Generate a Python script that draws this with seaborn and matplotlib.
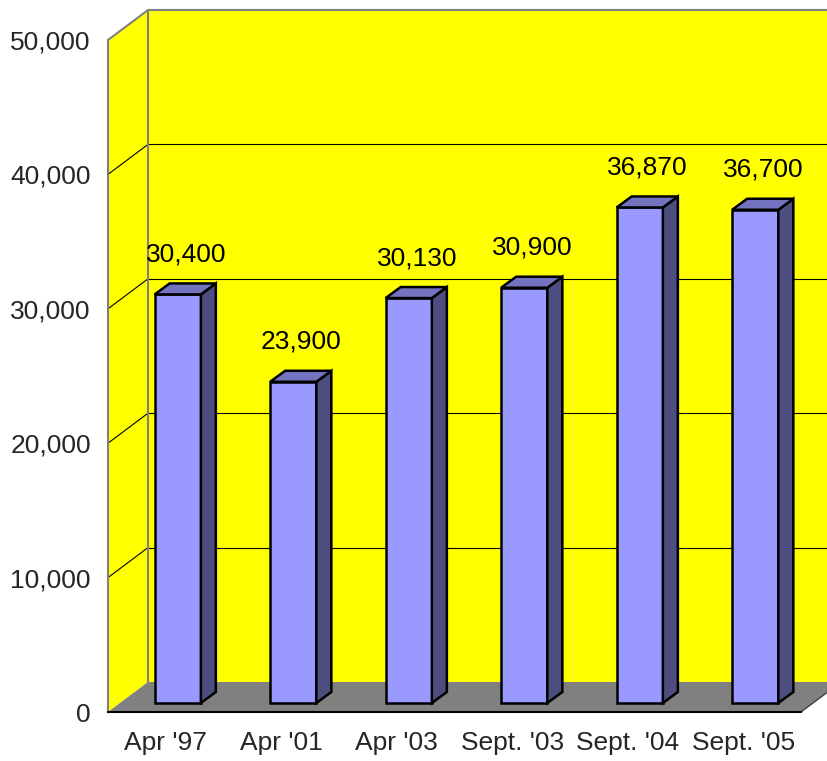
import matplotlib
matplotlib.use("Agg")
import matplotlib.pyplot as plt
import numpy as np
import pandas as pd
import seaborn as sns
from matplotlib.patches import Polygon
from matplotlib.transforms import IdentityTransform, ScaledTranslation

# data
dates = ["Apr '97", "Apr '01", "Apr '03", "Sept. '03", "Sept. '04", "Sept. '05"]
counts = [30400, 23900, 30130, 30900, 36870, 36700]
y_ticks = [0, 10000, 20000, 30000, 40000, 50000]

# 3d look, all in pixels (right, up)
wall_depth = (40, 30)
bar_shift = (12, 9)
bar_depth = (15, 11)

front_color = "#9999FF"
top_color = "#7373C0"
side_color = "#4D4D80"
edge_w = 1.8
font_size = 19

sns.set_style("white")
plt.rcParams["font.family"] = ["Liberation Sans", "DejaVu Sans"]

fig = plt.figure(figsize=(8.28, 7.61), dpi=100)
ax = fig.add_axes([108 / 828, 49 / 761, 693 / 828, 672 / 761])
ax.patch.set_visible(False)

df = pd.DataFrame({"date": dates, "count": counts})
sns.barplot(data=df, x="date", y="count", color=front_color, saturation=1,
            width=0.4, edgecolor="black", linewidth=edge_w, ax=ax, zorder=3)
bars = list(ax.patches)

ax.set_xlim(-0.5, len(dates) - 0.5)
ax.set_ylim(0, 50000)
ax.autoscale(False)


def px(x, y, dx=0.0, dy=0.0):
    X, Y = ax.transData.transform((x, y))
    return (X + dx, Y + dy)


def add_poly(points, fc, ec="none", lw=0.0, z=0):
    ax.add_patch(Polygon(points, closed=True, facecolor=fc, edgecolor=ec,
                         linewidth=lw, transform=IdentityTransform(),
                         clip_on=False, zorder=z, joinstyle="miter"))


def add_line(p0, p1, color, lw, z=1):
    ax.add_line(plt.Line2D([p0[0], p1[0]], [p0[1], p1[1]], color=color,
                           linewidth=lw, transform=IdentityTransform(),
                           clip_on=False, zorder=z))


x_lo, x_hi = -0.5, len(dates) - 0.5
y_top = y_ticks[-1]
wd = wall_depth

# back wall, side wall and floor
add_poly([px(x_lo, 0, *wd), px(x_hi, 0, *wd), px(x_hi, y_top, *wd),
          px(x_lo, y_top, *wd)], "#FFFF00", z=0)
add_poly([px(x_lo, 0), px(x_lo, 0, *wd), px(x_lo, y_top, *wd),
          px(x_lo, y_top)], "#FFFF00", z=0)
add_poly([px(x_lo, 0), px(x_hi, 0), px(x_hi, 0, *wd), px(x_lo, 0, *wd)],
         "#808080", z=0.5)
add_line(px(x_hi, 0), px(x_hi, 0, *wd), "#404040", 1.0, z=0.6)

# gridlines on the walls
for t in y_ticks[1:-1]:
    add_line(px(x_lo, t, *wd), px(x_hi, t, *wd), "black", 0.8, z=0.4)
    add_line(px(x_lo, t), px(x_lo, t, *wd), "black", 0.8, z=0.4)

# grey frame of the walls
add_line(px(x_lo, 0, *wd), px(x_lo, y_top, *wd), "#808080", 1.5, z=0.45)
add_line(px(x_lo, y_top), px(x_lo, y_top, *wd), "#808080", 1.5, z=0.45)
add_line(px(x_lo, y_top, *wd), px(x_hi, y_top, *wd), "#808080", 1.5, z=0.45)

# bars: shift the front faces and add top / side faces
shift = ScaledTranslation(bar_shift[0] / 100, bar_shift[1] / 100,
                          fig.dpi_scale_trans)
bd = bar_depth
for p in bars:
    p.set_transform(ax.transData + shift)
    p.set_clip_on(False)
    x0 = p.get_x()
    x1 = x0 + p.get_width()
    h = p.get_height()
    fl = px(x0, h, *bar_shift)
    fr = px(x1, h, *bar_shift)
    fb = px(x1, 0, *bar_shift)
    add_poly([fb, fr, (fr[0] + bd[0], fr[1] + bd[1]), (fb[0] + bd[0], fb[1] + bd[1])],
             side_color, "black", edge_w, z=3)
    add_poly([fl, fr, (fr[0] + bd[0], fr[1] + bd[1]), (fl[0] + bd[0], fl[1] + bd[1])],
             top_color, "black", edge_w, z=3)
    ax.annotate(f"{int(h):,}", xy=(x0 + p.get_width() / 2, h),
                xytext=(20, 49), textcoords="offset pixels",
                ha="center", va="center", fontsize=font_size, color="black",
                zorder=4, annotation_clip=False)

# axes
ax.set_xlabel("")
ax.set_ylabel("")
ax.set_xticks(np.arange(len(dates) + 1) - 0.5)
ax.set_xticklabels([])
ax.set_xticks(np.arange(len(dates)), minor=True)
ax.set_xticklabels(dates, minor=True)
ax.tick_params(axis="x", which="major", length=11, width=1.2, color="black",
               direction="out")
ax.tick_params(axis="x", which="minor", length=0, pad=14, labelsize=font_size)

ax.set_yticks(y_ticks)
ax.set_yticklabels([f"{t:,}" for t in y_ticks])
ax.tick_params(axis="y", length=8, width=1.5, color="#808080", direction="out",
               pad=4.3, labelsize=font_size)

for side in ["top", "right"]:
    ax.spines[side].set_visible(False)
ax.spines["left"].set_color("#808080")
ax.spines["left"].set_linewidth(1.5)
ax.spines["bottom"].set_color("black")
ax.spines["bottom"].set_linewidth(1.5)

fig.savefig("out.png", dpi=100, facecolor="white")
